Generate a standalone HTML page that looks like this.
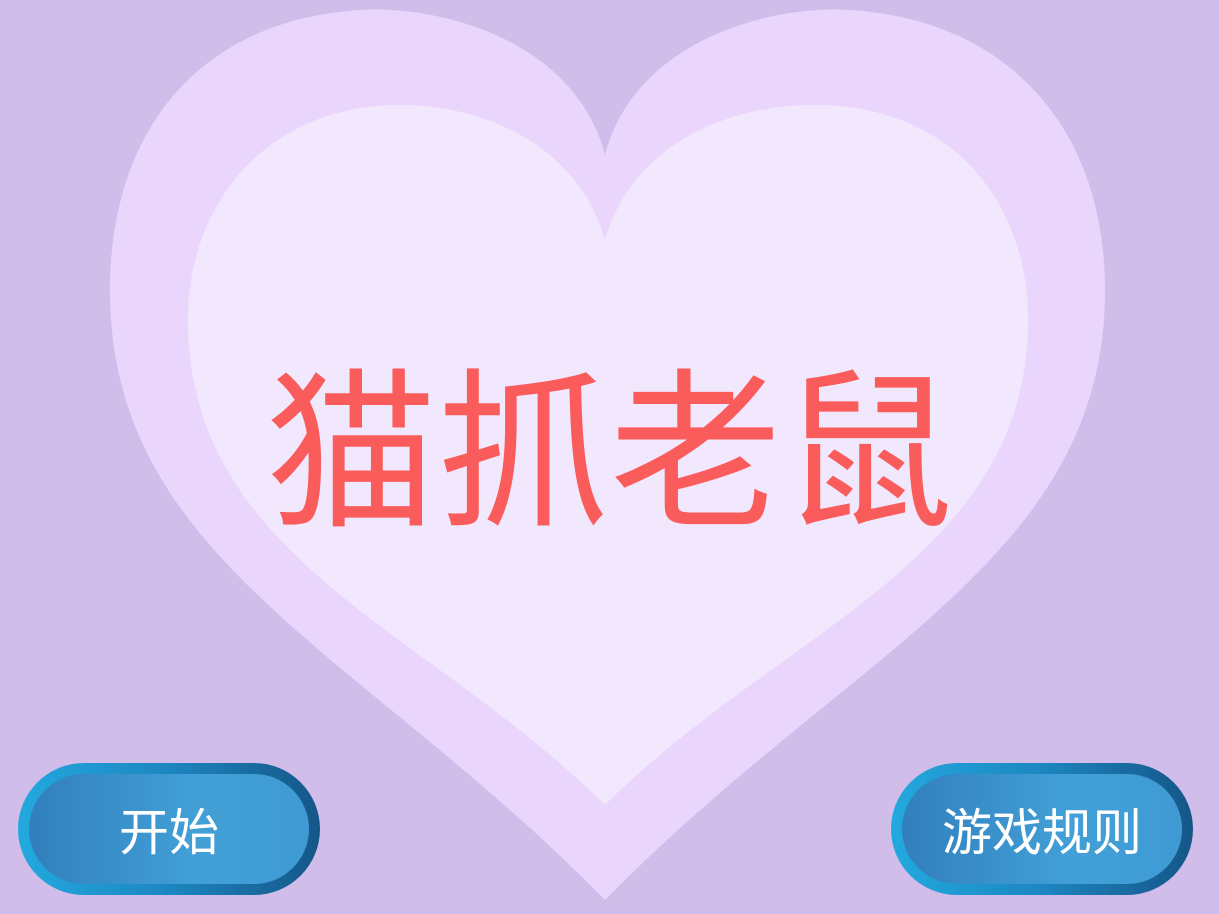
<!DOCTYPE html>
<html><head><meta charset="utf-8"><style>
html,body{margin:0;padding:0;}
body{width:1219px;height:914px;background:#d1bde9;position:relative;overflow:hidden;font-family:"Liberation Sans","Noto Sans CJK SC",sans-serif;}
svg{position:absolute;left:0;top:0;}
.title{position:absolute;left:0;width:1219px;top:354px;text-align:center;font-size:172px;line-height:200px;color:#fa5b5b;letter-spacing:0px;}
.btn{position:absolute;top:763px;width:302px;height:132px;border-radius:66px;background:linear-gradient(90deg,#22a9de,#1d86c0 50%,#155688);box-sizing:border-box;padding:11px;}
.btn .in{width:100%;height:100%;border-radius:55px;background:linear-gradient(90deg,#317fbd,#42a0d7 60%,#3f9ad3);color:#fff;font-size:50px;display:flex;align-items:center;justify-content:center;}
</style></head><body>
<svg width="1219" height="914">
<path fill="#ead6fd" d="M605 155 C575 40,440 5,360 10 C200 20,110 130,110 290 C110 560,360 650,605 900 C850 650,1105 560,1105 290 C1105 130,1010 20,850 10 C770 5,635 40,605 155 Z"/>
<path fill="#f2e8fd" d="M605 240 C580 150,490 105,400 105 C270 105,188 200,188 320 C188 560,430 630,605 805 C780 630,1028 560,1028 320 C1028 200,950 105,815 105 C720 105,630 150,605 240 Z"/>
</svg>
<div class="title">猫抓老鼠</div>
<div class="btn" style="left:18px"><div class="in">开始</div></div>
<div class="btn" style="left:891px"><div class="in">游戏规则</div></div>
</body></html>
